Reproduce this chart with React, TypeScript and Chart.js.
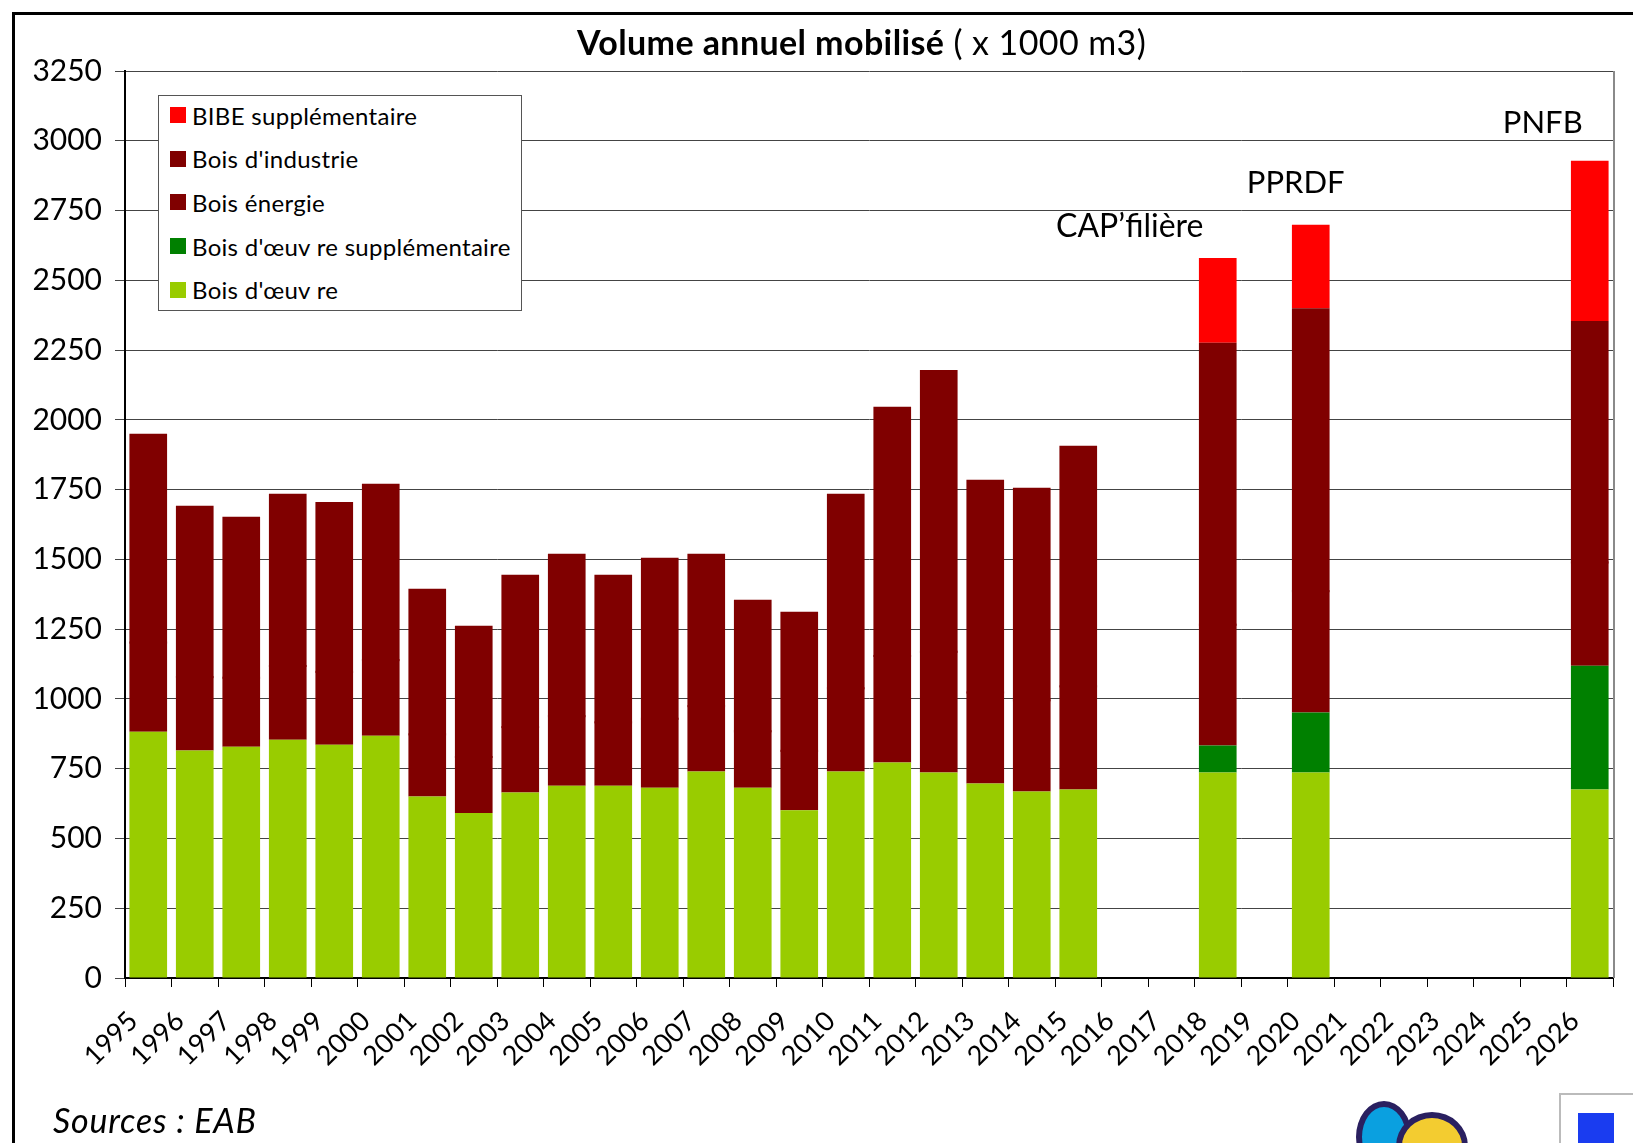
import React, { useEffect, useRef } from "react";
import { Chart, registerables } from "chart.js";

Chart.register(...registerables);

const categories = [
  "1995", "1996", "1997", "1998", "1999", "2000", "2001", "2002", "2003", "2004",
  "2005", "2006", "2007", "2008", "2009", "2010", "2011", "2012", "2013", "2014",
  "2015", "2016", "2017", "2018", "2019", "2020", "2021", "2022", "2023", "2024",
  "2025", "2026",
];

const boisOeuvre = [
  882, 815, 829, 854, 836, 868, 650, 591, 665, 689,
  689, 682, 740, 682, 601, 740, 772, 736, 697, 668,
  675, null, null, 736, null, 736, null, null, null, null,
  null, 675,
];

const boisOeuvreSupp = [
  null, null, null, null, null, null, null, null, null, null,
  null, null, null, null, null, null, null, null, null, null,
  null, null, null, 97, null, 215, null, null, null, null,
  null, 444,
];

const boisEnergie = [
  320, 263, 247, 264, 261, 271, 223, 201, 234, 249,
  227, 247, 234, 202, 213, 298, 382, 433, 326, 327,
  370, null, null, 433, null, 435, null, null, null, null,
  null, 370,
];

const boisIndustrie = [
  748, 614, 577, 617, 609, 632, 522, 470, 546, 582,
  529, 577, 546, 471, 498, 697, 893, 1010, 762, 762,
  862, null, null, 1010, null, 1014, null, null, null, null,
  null, 865,
];

const bibeSupp = [
  null, null, null, null, null, null, null, null, null, null,
  null, null, null, null, null, null, null, null, null, null,
  null, null, null, 304, null, 299, null, null, null, null,
  null, 574,
];

const yTicks = [0, 250, 500, 750, 1000, 1250, 1500, 1750, 2000, 2250, 2500, 2750, 3000, 3250];

const planLabels = ["CAP\u2019filière", "PPRDF", "PNFB"];
const planYears = ["2018", "2020", "2026"];
const planLevels = [2692, 2850, 3064];

const legendItems = [
  { label: "BIBE supplémentaire", color: "#FF0000" },
  { label: "Bois d'industrie", color: "#800000" },
  { label: "Bois énergie", color: "#800000" },
  { label: "Bois d'\u0153uv re supplémentaire", color: "#008000" },
  { label: "Bois d'\u0153uv re", color: "#99CC00" },
];

const FONT = "Lato, 'Open Sans', sans-serif";

const planOffsets = [-88, -15, -47];

const annotationPlugin = {
  id: "planLabels",
  afterDatasetsDraw(chart: any) {
    const { ctx, scales } = chart;
    const xs = scales.x;
    const ys = scales.y;
    ctx.save();
    // hide the anti-aliasing seam between the two same-coloured dark red segments
    const meta = chart.getDatasetMeta(2);
    ctx.fillStyle = "#800000";
    meta.data.forEach((el: any, i: number) => {
      if (boisEnergie[i] == null || boisIndustrie[i] == null) return;
      const p = el.getProps(["x", "y", "width"], true);
      ctx.fillRect(p.x - p.width / 2, p.y - 1, p.width, 2);
    });

    ctx.fillStyle = "#000";
    ctx.textAlign = "center";
    ctx.textBaseline = "middle";
    planLabels.forEach((t, i) => {
      ctx.font = `${i === 0 ? 32 : 31}px ${FONT}`;
      const idx = categories.indexOf(planYears[i]);
      const x = xs.getPixelForValue(idx) + planOffsets[i];
      const y = ys.getPixelForValue(planLevels[i]);
      ctx.fillText(t, x, y);
    });
    const ca = chart.chartArea;
    ctx.strokeStyle = "#8a8a8a";
    ctx.lineWidth = 2;
    ctx.beginPath();
    ctx.moveTo(ca.right + 1, ca.top);
    ctx.lineTo(ca.right + 1, ca.bottom);
    ctx.stroke();
    ctx.restore();
  },
};

export default function App() {
  const ref = useRef<HTMLCanvasElement | null>(null);

  useEffect(() => {
    if (!ref.current) return;
    const ds = (label: string, data: any[], color: string) => ({
      label,
      data,
      backgroundColor: color,
      borderWidth: 0,
      stack: "s",
      barPercentage: 0.81,
      categoryPercentage: 1.0,
    });
    const chart = new Chart(ref.current, {
      type: "bar",
      data: {
        labels: categories,
        datasets: [
          ds("Bois d'\u0153uvre", boisOeuvre, "#99CC00"),
          ds("Bois d'\u0153uvre supplémentaire", boisOeuvreSupp, "#008000"),
          ds("Bois énergie", boisEnergie, "#800000"),
          ds("Bois d'industrie", boisIndustrie, "#800000"),
          ds("BIBE supplémentaire", bibeSupp, "#FF0000"),
        ],
      },
      options: {
        animation: false,
        responsive: false,
        devicePixelRatio: 1,
        layout: { padding: { left: 0, top: 71, right: 20, bottom: 0 } },
        plugins: {
          legend: { display: false },
          title: { display: false },
          tooltip: { enabled: false },
        },
        scales: {
          x: {
            stacked: true,
            grid: {
              offset: true,
              drawOnChartArea: false,
              drawTicks: true,
              tickLength: 9,
              color: "#000",
              lineWidth: 1,
            },
            border: { color: "#000", width: 2 },
            ticks: {
              autoSkip: false,
              maxRotation: 45,
              minRotation: 45,
              labelOffset: -15,
              padding: 18,
              color: "#000",
              font: { family: FONT, size: 27 },
            },
            afterFit(scale: any) {
              scale.height = 165;
            },
          },
          y: {
            stacked: true,
            min: 0,
            max: 3250,
            afterBuildTicks(scale: any) {
              scale.ticks = yTicks.map((v) => ({ value: v }));
            },
            grid: {
              color: "#444",
              lineWidth: 1,
              tickLength: 10,
            },
            border: { color: "#000", width: 2 },
            ticks: {
              padding: 13,
              color: "#000",
              font: { family: FONT, size: 30 },
              callback: (v: any) => String(v),
            },
            afterFit(scale: any) {
              scale.width = 125;
            },
          },
        },
      },
      plugins: [annotationPlugin],
    });
    return () => chart.destroy();
  }, []);

  return (
    <div style={{ position: "absolute", left: 0, top: 0, width: 1633, height: 1143, overflow: "hidden", background: "#fff", fontFamily: FONT }}>
      <div style={{ position: "absolute", left: 12, top: 12, width: 1700, height: 1200, borderLeft: "3px solid #000", borderTop: "3px solid #000" }} />
      <canvas ref={ref} width={1633} height={1143} style={{ position: "absolute", left: 0, top: 0, width: 1633, height: 1143 }} />
      <div style={{ position: "absolute", left: 0, width: 1633, top: 21, textAlign: "center", fontSize: 34, lineHeight: "42px", color: "#000", paddingLeft: 90, boxSizing: "border-box", letterSpacing: 0.4 }}>
        <span style={{ fontWeight: 700 }}>Volume annuel mobilisé</span>
        <span> ( x 1000 m3)</span>
      </div>
      <div style={{ position: "absolute", left: 158, top: 95, width: 364, height: 216, border: "1px solid #555", background: "#fff", boxSizing: "border-box" }}>
        {legendItems.map((it, i) => (
          <div key={i} style={{ position: "absolute", left: 11, top: 9 + i * 43.7, height: 20, display: "flex", alignItems: "center", whiteSpace: "nowrap" }}>
            <span style={{ display: "inline-block", width: 16, height: 16, background: it.color, marginRight: 6 }} />
            <span style={{ fontSize: 24, color: "#000", letterSpacing: 0.3 }}>{it.label}</span>
          </div>
        ))}
      </div>
      <div style={{ position: "absolute", left: 53, top: 1100, fontSize: 34, fontStyle: "italic", color: "#000", lineHeight: "40px", letterSpacing: 0.8 }}>
        Sources : EAB
      </div>
      <div style={{ position: "absolute", left: 1356, top: 1101, width: 44, height: 60, borderRadius: "50%", background: "#0aa0e0", border: "6px solid #2a2060" }} />
      <div style={{ position: "absolute", left: 1396, top: 1112, width: 60, height: 56, borderRadius: "50%", background: "#f3cc30", border: "6px solid #2a2060" }} />
      <div style={{ position: "absolute", left: 1559, top: 1093, width: 100, height: 80, border: "2px solid #bbb", background: "#fff" }}>
        <div style={{ position: "absolute", left: 17, top: 18, width: 36, height: 40, background: "#1a3cf0" }} />
      </div>
    </div>
  );
}
